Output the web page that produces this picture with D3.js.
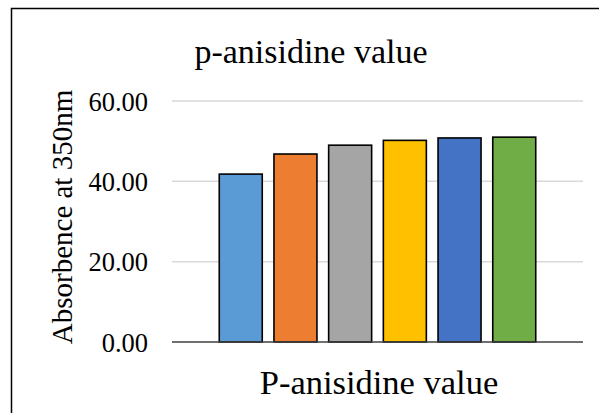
<!DOCTYPE html>
<html>
<head>
<meta charset="utf-8">
<script src="https://cdn.jsdelivr.net/npm/d3@7"></script>
<style>
body { margin: 0; background: #fff; }
</style>
</head>
<body>
<div id="chart"></div>
<script>
// data
const categories = ["S1", "S2", "S3", "S4", "S5", "S6"];
const values = [41.8, 46.8, 49.0, 50.2, 50.8, 51.0];
const colors = ["#5B9BD5", "#ED7D31", "#A5A5A5", "#FFC000", "#4472C4", "#70AD47"];
const yTicks = [0, 20, 40, 60];

const width = 599;
const height = 413;
const serif = "'Liberation Serif', 'Times New Roman', serif";

// plot area
const plot = { left: 172, right: 583, top: 101, bottom: 342 };

const svg = d3.select("#chart").append("svg")
    .attr("width", width)
    .attr("height", height)
    .style("font-family", serif);

// outer chart border (runs off the right and bottom)
svg.append("path")
    .attr("d", `M11.5,${height} V8.5 H${width}`)
    .attr("fill", "none")
    .attr("stroke", "#000")
    .attr("stroke-width", 1.5);

const x = d3.scaleBand()
    .domain(categories)
    .range([plot.left, plot.right])
    .paddingInner(0.214)
    .paddingOuter(0.864);

const y = d3.scaleLinear()
    .domain([0, 60])
    .range([plot.bottom, plot.top]);

// gridlines
svg.append("g")
    .selectAll("line")
    .data(yTicks.filter(d => d > 0))
    .join("line")
    .attr("x1", plot.left)
    .attr("x2", plot.right)
    .attr("y1", d => y(d))
    .attr("y2", d => y(d))
    .attr("stroke", "#d9d9d9")
    .attr("stroke-width", 1.5);

// y axis labels
const leftAxis = d3.axisLeft(y)
    .tickValues(yTicks)
    .tickFormat(d3.format(".2f"))
    .tickSize(0)
    .tickPadding(0);

const yAxis = svg.append("g")
    .attr("transform", `translate(148, 0)`)
    .call(leftAxis)
    .attr("font-family", null)
    .attr("font-size", null);
yAxis.select(".domain").remove();
yAxis.selectAll("text")
    .style("font-family", serif)
    .style("font-size", "26.5px")
    .attr("dy", "0.34em")
    .attr("fill", "#000");

// bars
svg.append("g")
    .selectAll("rect")
    .data(values)
    .join("rect")
    .attr("x", (d, i) => x(categories[i]))
    .attr("y", d => y(d))
    .attr("width", x.bandwidth())
    .attr("height", d => y(0) - y(d))
    .attr("fill", (d, i) => colors[i])
    .attr("stroke", "#000")
    .attr("stroke-width", 1.6);

// baseline
svg.append("line")
    .attr("x1", plot.left)
    .attr("x2", plot.right)
    .attr("y1", y(0))
    .attr("y2", y(0))
    .attr("stroke", "#404040")
    .attr("stroke-width", 1.5);

// titles
svg.append("text")
    .attr("x", 311)
    .attr("y", 63)
    .attr("text-anchor", "middle")
    .style("font-family", serif)
    .style("font-size", "34px")
    .text("p-anisidine value");

svg.append("text")
    .attr("x", 379)
    .attr("y", 394)
    .attr("text-anchor", "middle")
    .style("font-family", serif)
    .style("font-size", "34.5px")
    .text("P-anisidine value");

svg.append("text")
    .attr("transform", `translate(72, 217) rotate(-90)`)
    .attr("text-anchor", "middle")
    .style("font-family", serif)
    .style("font-size", "29px")
    .text("Absorbence at 350nm");

// force text layout
svg.selectAll("text").each(function() { this.getComputedTextLength(); });
</script>
</body>
</html>
